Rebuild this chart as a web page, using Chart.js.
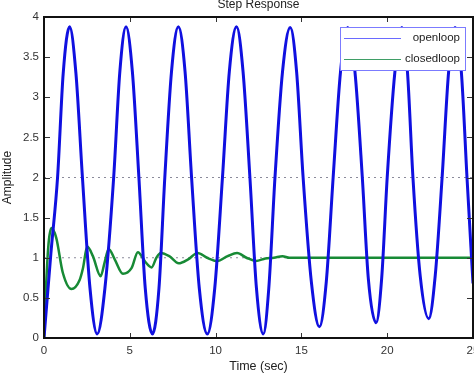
<!DOCTYPE html>
<html>
<head>
<meta charset="utf-8">
<title>Step Response</title>
<script src="https://cdn.jsdelivr.net/npm/chart.js@4/dist/chart.umd.min.js"></script>
<style>
  html, body { margin: 0; padding: 0; background: #fff; }
  #wrap { width: 474px; height: 374px; }
</style>
</head>
<body>
<div id="wrap"><canvas id="step" width="474" height="374"></canvas></div>
<script>
'use strict';

/********************************** Données **********************************/

var openTime = [0, 0.4, 0.79, 1.12, 1.49, 1.86, 2.24, 2.68, 3.1, 3.55, 4.06, 4.42, 4.78, 5.15, 5.53,
  5.9, 6.32, 6.7, 7.04, 7.43, 7.83, 8.22, 8.6, 9.05, 9.52, 9.95, 10.4, 10.8, 11.22, 11.6, 12.0,
  12.38, 12.78, 13.1, 13.46, 13.9, 14.35, 14.72, 15.1, 15.58, 16.05, 16.45, 16.85, 17.28, 17.7,
  18.12, 18.55, 18.9, 19.35, 19.68, 20.0, 20.45, 20.85, 21.18, 21.5, 21.92, 22.42, 22.8, 23.2,
  23.58, 23.95, 24.32, 24.65, 25];
var openAmp = [0, 1.05, 2.0, 3.3, 3.88, 3.3, 2.0, 0.62, 0.05, 0.62, 2.0, 3.32, 3.88, 3.32, 2.0,
  0.62, 0.05, 0.62, 2.0, 3.32, 3.88, 3.32, 2.0, 0.62, 0.05, 0.62, 2.0, 3.32, 3.88, 3.32, 2.0,
  0.62, 0.05, 0.62, 2.0, 3.32, 3.87, 3.32, 2.0, 0.7, 0.14, 0.7, 2.0, 3.32, 3.87,
  3.32, 2.0, 0.74, 0.19, 0.75, 2.0, 3.32, 3.87, 3.32, 2.0, 0.78, 0.24, 0.78, 2.0,
  3.32, 3.87, 3.32, 2.0, 0.68];

var closedTime = [0, 0.1, 0.22, 0.32, 0.44, 0.71, 1.1, 1.6, 2.07, 2.27, 2.52, 2.85, 3.3, 3.53,
  3.77, 4.12, 4.6, 5.1, 5.47, 5.9, 6.27, 6.55, 6.8, 7.3, 7.85, 8.4, 8.95, 9.5, 10.1, 10.7,
  11.25, 11.8, 12.35, 12.9, 13.4, 13.9, 14.3, 25];
var closedAmp = [0, 0.55, 1.05, 1.28, 1.37, 1.25, 0.81, 0.61, 0.72, 0.87, 1.14, 1.02, 0.77, 0.94,
  1.11, 0.98, 0.8, 0.87, 1.07, 0.95, 0.88, 1.0, 1.06, 1.02, 0.93, 0.98, 1.06, 1.0, 0.96, 1.02,
  1.06, 1.0, 0.96, 0.99, 1.0, 1.02, 1.0, 1.0];

// lignes pointillées de valeur finale
var finalTime = [0, 25];
var openFinal = [2, 2];
var closedFinal = [1, 1];

var xTicks = [0, 5, 10, 15, 20, 25];
var yTicks = [0, 0.5, 1, 1.5, 2, 2.5, 3, 3.5, 4];

var seriesNames = ['openloop', 'closedloop'];

/********************************** Préparation ******************************************/

var FONT = "'Liberation Sans', Arial, Helvetica, sans-serif";

function toPoints(xs, ys) {
  return xs.map(function(x, i) { return {x: x, y: ys[i]}; });
}

// cadre + graduations intérieures façon matlab
var framePlugin = {
  id: 'frame',
  afterDatasetsDraw: function(chart) {
    var ctx = chart.ctx;
    var a = chart.chartArea;
    var sx = chart.scales.x;
    var sy = chart.scales.y;
    ctx.save();
    ctx.strokeStyle = '#333';
    ctx.lineWidth = 1;
    ctx.beginPath();
    xTicks.forEach(function(v) {
      var px = Math.round(sx.getPixelForValue(v)) + 0.5;
      ctx.moveTo(px, a.bottom); ctx.lineTo(px, a.bottom - 5);
      ctx.moveTo(px, a.top); ctx.lineTo(px, a.top + 5);
    });
    yTicks.forEach(function(v) {
      var py = Math.round(sy.getPixelForValue(v)) + 0.5;
      ctx.moveTo(a.left, py); ctx.lineTo(a.left + 6, py);
      ctx.moveTo(a.right, py); ctx.lineTo(a.right - 6, py);
    });
    ctx.stroke();

    ctx.strokeStyle = '#111';
    ctx.lineWidth = 2;
    ctx.strokeRect(a.left, a.top, a.right - a.left, a.bottom - a.top);

    // légende
    var bx = 340, by = 27, bw = 125, bh = 43;
    ctx.fillStyle = '#fff';
    ctx.fillRect(bx, by, bw, bh);
    ctx.strokeStyle = '#7b7bff';
    ctx.lineWidth = 1;
    ctx.strokeRect(bx + 0.5, by + 0.5, bw, bh);
    var rows = [{y: 38, c: '#6a6aff'}, {y: 59, c: '#3f9e66'}];
    ctx.font = '11.5px ' + FONT;
    ctx.textAlign = 'right';
    ctx.textBaseline = 'middle';
    rows.forEach(function(r, i) {
      ctx.strokeStyle = r.c;
      ctx.beginPath();
      ctx.moveTo(344, r.y + 0.5); ctx.lineTo(401, r.y + 0.5);
      ctx.stroke();
      ctx.fillStyle = '#222';
      ctx.fillText(seriesNames[i], 460, r.y);
    });
    ctx.restore();
  }
};

/********************************** Création du graphique *********************************/

var chart = new Chart(document.getElementById('step').getContext('2d'), {
  type: 'line',
  data: {
    datasets: [{
      label: seriesNames[0],
      data: toPoints(openTime, openAmp),
      borderColor: '#1010e0',
      borderWidth: 3,
      cubicInterpolationMode: 'monotone',
      pointRadius: 0,
      order: 1
    }, {
      label: seriesNames[1],
      data: toPoints(closedTime, closedAmp),
      borderColor: '#178a35',
      borderWidth: 2.5,
      cubicInterpolationMode: 'monotone',
      pointRadius: 0,
      order: 2
    }, {
      label: 'final open',
      data: toPoints(finalTime, openFinal),
      borderColor: '#8a8a9a',
      borderWidth: 1,
      borderDash: [2, 4],
      pointRadius: 0,
      order: 3
    }, {
      label: 'final closed',
      data: toPoints(finalTime, closedFinal),
      borderColor: '#8a8a9a',
      borderWidth: 1,
      borderDash: [2, 4],
      pointRadius: 0,
      order: 3
    }]
  },
  options: {
    responsive: false,
    animation: false,
    devicePixelRatio: 1,
    layout: { padding: { left: 0, right: 1, top: 0, bottom: 0 } },
    plugins: {
      legend: { display: false },
      tooltip: { enabled: false },
      title: {
        display: true,
        fullSize: false,
        text: 'Step Response',
        color: '#222',
        font: { family: FONT, size: 12, weight: 'normal', lineHeight: 1 },
        padding: { top: -1, bottom: 6 }
      }
    },
    scales: {
      x: {
        type: 'linear',
        min: 0,
        max: 25,
        grid: { display: false, drawTicks: false },
        border: { display: false },
        ticks: {
          stepSize: 5,
          padding: 6,
          color: '#333',
          font: { family: FONT, size: 11.5 },
          maxRotation: 0,
          callback: function(v) { return String(v); }
        },
        title: {
          display: true,
          text: 'Time (sec)',
          color: '#222',
          font: { family: FONT, size: 12.5 },
          padding: { top: 0, bottom: 0 }
        },
        afterFit: function(scale) {
          scale.height = 36;
          scale.paddingLeft = 0;
          scale.paddingRight = 0;
        }
      },
      y: {
        type: 'linear',
        min: 0,
        max: 4,
        grid: { display: false, drawTicks: false },
        border: { display: false },
        ticks: {
          stepSize: 0.5,
          padding: 5,
          color: '#333',
          font: { family: FONT, size: 11.5 },
          callback: function(v) { return String(v); }
        },
        title: {
          display: true,
          text: 'Amplitude',
          color: '#222',
          font: { family: FONT, size: 12 },
          padding: { top: 0, bottom: 0 }
        },
        afterFit: function(scale) {
          scale.width = 44;
          scale.paddingTop = 0;
          scale.paddingBottom = 0;
        }
      }
    }
  },
  plugins: [framePlugin]
});
</script>
</body>
</html>
